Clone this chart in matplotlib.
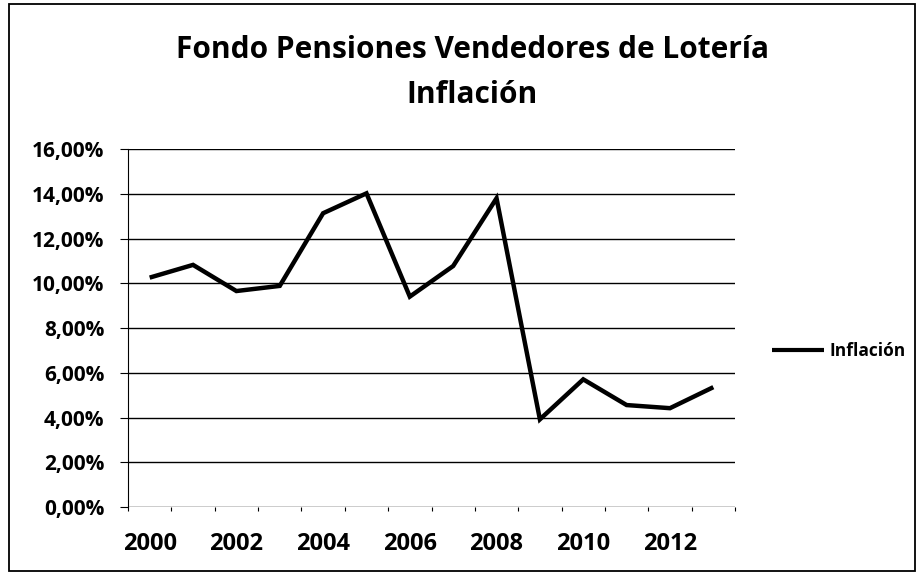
import matplotlib
matplotlib.use("Agg")
import matplotlib.pyplot as plt
from matplotlib.ticker import FuncFormatter, FixedLocator
from matplotlib.patches import Rectangle

years = [2000, 2001, 2002, 2003, 2004, 2005, 2006, 2007, 2008, 2009, 2010, 2011, 2012, 2013]
inflation = [10.26, 10.83, 9.66, 9.89, 13.14, 14.03, 9.41, 10.78, 13.81, 3.92, 5.71, 4.56, 4.42, 5.36]
y_ticks = [0, 2, 4, 6, 8, 10, 12, 14, 16]
x_label_years = [2000, 2002, 2004, 2006, 2008, 2010, 2012]
title_lines = ["Fondo Pensiones Vendedores de Lotería", "Inflación"]
series_name = "Inflación"

W, H = 922, 573
fig = plt.figure(figsize=(W / 100, H / 100), dpi=100)
fam = ["Open Sans", "DejaVu Sans"]

def fx(px):
    return px / W

def fy(py):
    return 1 - py / H

# outer chart border
fig.patches.append(Rectangle((fx(9), fy(571)), (915 - 9) / W, (571 - 4) / H,
                             transform=fig.transFigure, fill=False,
                             edgecolor="black", linewidth=1.3))

left, right, top, bottom = 128, 735, 149.3, 507
ax = fig.add_axes([fx(left), fy(bottom), (right - left) / W, (bottom - top) / H])

idx = list(range(len(years)))
ax.plot(idx, inflation, color="black", linewidth=3.2, solid_joinstyle="miter",
        solid_capstyle="butt", label=series_name)

ax.set_xlim(-0.5, len(years) - 0.5)
ax.set_ylim(0, 16)
ax.set_yticks(y_ticks)
ax.yaxis.set_major_formatter(FuncFormatter(lambda v, p: f"{v:.2f}%".replace(".", ",")))
ax.yaxis.grid(True, color="black", linewidth=1.0)
ax.set_axisbelow(True)

ax.set_xticks([years.index(y) for y in x_label_years])
ax.set_xticklabels([str(y) for y in x_label_years])
ax.xaxis.set_minor_locator(FixedLocator([i - 0.5 for i in range(len(years) + 1)]))
ax.tick_params(axis="x", which="major", length=0, pad=18)
ax.tick_params(axis="x", which="minor", length=3, width=0.8, direction="out")
ax.tick_params(axis="y", length=6, width=0.8, direction="out", pad=11)

for s in ["top", "right", "bottom"]:
    ax.spines[s].set_visible(False)
ax.spines["left"].set_linewidth(0.8)

for lab in ax.get_yticklabels():
    lab.set_fontfamily(fam)
    lab.set_fontweight("bold")
    lab.set_fontsize(15)
for lab in ax.get_xticklabels():
    lab.set_fontfamily(fam)
    lab.set_fontweight("bold")
    lab.set_fontsize(17)

fig.text(fx(472), fy(50), title_lines[0], ha="center", va="center",
         fontsize=21.5, fontweight="bold", family=fam)
fig.text(fx(472), fy(95), title_lines[1], ha="center", va="center",
         fontsize=21.5, fontweight="bold", family=fam)

leg = fig.legend(loc="center left", bbox_to_anchor=(fx(772), fy(351)), frameon=False,
                 prop={"family": fam, "weight": "bold", "size": 12.5}, handlelength=3.0,
                 handletextpad=0.3, borderaxespad=0, borderpad=0)
for l in leg.get_lines():
    l.set_linewidth(3)

fig.savefig("out.png", dpi=100, facecolor="white")
